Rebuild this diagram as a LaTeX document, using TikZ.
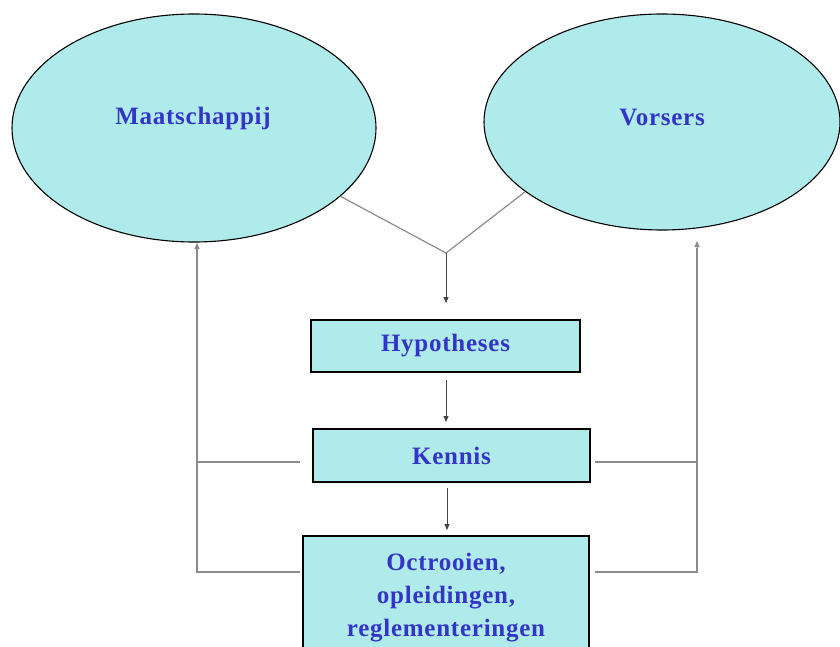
\documentclass[tikz,border=0pt]{standalone}
\usepackage{fontspec}
\setmainfont{Liberation Serif}[LetterSpace=3]
\usetikzlibrary{shapes.geometric,arrows.meta}
\definecolor{fillc}{HTML}{AFEBEB}
\definecolor{txtc}{HTML}{3434C8}
\definecolor{linec}{HTML}{8C8C8C}
\definecolor{arrc}{HTML}{444444}
\begin{document}
\begin{tikzpicture}[x=1pt,y=-1pt,
  oval/.style={ellipse,draw=black,line width=1.1pt,fill=fillc,inner sep=0pt},
  lbl/.style={text=txtc,font=\fontsize{25}{33}\selectfont\bfseries,align=center},
  boxnode/.style={rectangle,draw=black,line width=1.2pt,fill=fillc,inner sep=0pt},
  conn/.style={draw=linec,line width=1.2pt},
  arr/.style={draw=arrc,line width=0.9pt,-{Triangle[length=6pt,width=5pt]}}]
\useasboundingbox (0,0) rectangle (840,647);
% ovals
\node[oval,minimum width=364pt,minimum height=228pt] (ms) at (194,128) {};
\node[lbl] (mslbl) at (193,118) {Maatschappij};
\node[oval,minimum width=356pt,minimum height=216pt] (vs) at (662,122) {};
\node[lbl] (vslbl) at (662,118) {Vorsers};
% boxes
\node[boxnode,minimum width=269pt,minimum height=52pt,lbl] (hyp) at (445.5,346) {\raisebox{-4pt}{Hypotheses}};
\node[boxnode,minimum width=277pt,minimum height=53pt,lbl] (ken) at (451.5,455.5) {\raisebox{-2pt}{Kennis}};
\node[boxnode,minimum width=286pt,minimum height=130pt] (oct) at (446,601) {};
\node[lbl] (octlbl) at (446,598) {Octrooien,\\opleidingen,\\reglementeringen};
% top connectors
\coordinate (j) at (446,253);
\draw[conn] (ms.-25) -- (j) -- (vs.-153);
\draw[arr] (j) -- (446,303);
\coordinate (h2) at (446,380);
\coordinate (h3) at (446,422);
\draw[arr] (h2) -- (h3);
\coordinate (k2) at (447,488);
\coordinate (k3) at (447,530);
\draw[arr] (k2) -- (k3);
% side feedback lines
\coordinate (kl) at (197,462);
\coordinate (ol) at (197,572);
\coordinate (kr) at (697,462);
\coordinate (or) at (697,572);
\coordinate (tl) at (197,243);
\coordinate (tr) at (697,241);
\draw[conn] (300,462) -- (kl);
\draw[conn] (300,572) -- (ol) -- (kl) -- (197,248);
\draw[arr,draw=linec] (197,250) -- (tl);
\draw[conn] (595,462) -- (kr);
\draw[conn] (595,572) -- (or) -- (kr) -- (697,248);
\draw[arr,draw=linec] (697,249) -- (tr);
\end{tikzpicture}
\end{document}
